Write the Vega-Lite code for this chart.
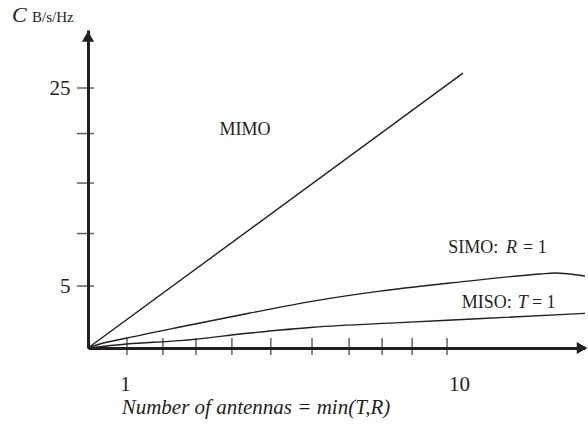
{
  "$schema": "https://vega.github.io/schema/vega-lite/v6.json",
  "width": 497,
  "height": 318,
  "autosize": {"type": "none"},
  "padding": {"left": 88, "top": 30, "right": 3, "bottom": 85},
  "background": "white",
  "config": {"view": {"stroke": null}, "font": "Liberation Serif"},
  "datasets": {
    "curves": [
      {"series": "MIMO", "n": 0, "c": -1.26},
      {"series": "MIMO", "n": 10.11, "c": 26.5},
      {"series": "SIMO", "n": 0, "c": -1.26},
      {"series": "SIMO", "n": 0.32, "c": -0.86},
      {"series": "SIMO", "n": 1.05, "c": -0.25},
      {"series": "SIMO", "n": 2.48, "c": 0.86},
      {"series": "SIMO", "n": 4.37, "c": 2.27},
      {"series": "SIMO", "n": 6.07, "c": 3.48},
      {"series": "SIMO", "n": 7.87, "c": 4.49},
      {"series": "SIMO", "n": 9.76, "c": 5.3},
      {"series": "SIMO", "n": 12.19, "c": 6.21},
      {"series": "SIMO", "n": 12.59, "c": 6.31},
      {"series": "SIMO", "n": 13.4, "c": 6.01},
      {"series": "MISO", "n": 0, "c": -1.26},
      {"series": "MISO", "n": 1.05, "c": -0.86},
      {"series": "MISO", "n": 2.48, "c": -0.52},
      {"series": "MISO", "n": 4.37, "c": 0.25},
      {"series": "MISO", "n": 6.07, "c": 0.83},
      {"series": "MISO", "n": 8.41, "c": 1.3},
      {"series": "MISO", "n": 10.5, "c": 1.69},
      {"series": "MISO", "n": 13.4, "c": 2.24}
    ],
    "xticks": [
      {"n": 1.05}, {"n": 2.02}, {"n": 2.91}, {"n": 3.88}, {"n": 4.93},
      {"n": 6.04}, {"n": 7.04}, {"n": 7.93}, {"n": 8.74}, {"n": 9.68}
    ],
    "yticks": [{"c": 5}, {"c": 10.3}, {"c": 15.4}, {"c": 20.4}, {"c": 25}],
    "labelsUpright": [
      {"text": "SIMO:", "n": 9.71, "c": 8.33},
      {"text": "= 1", "n": 11.73, "c": 8.33},
      {"text": "MISO:", "n": 10.08, "c": 2.78},
      {"text": "= 1", "n": 11.97, "c": 2.78}
    ],
    "labelsItalic": [
      {"text": "R", "n": 11.27, "c": 8.33},
      {"text": "T", "n": 11.59, "c": 2.78}
    ]
  },
  "layer": [
    {
      "data": {"name": "curves"},
      "mark": {"type": "line", "color": "#231f20", "strokeWidth": 1.4, "interpolate": "monotone"},
      "encoding": {
        "x": {
          "field": "n", "type": "quantitative",
          "scale": {"domain": [0, 13.4], "nice": false, "zero": false},
          "axis": {
            "values": [1, 10], "ticks": false, "grid": false,
            "domainWidth": 3, "domainColor": "#231f20",
            "labelFont": "Liberation Serif", "labelFontSize": 21, "labelColor": "#231f20",
            "labelBaseline": "alphabetic", "labelPadding": 42, "title": null
          }
        },
        "y": {
          "field": "c", "type": "quantitative",
          "scale": {"domain": [-1.26, 30.86], "nice": false, "zero": false},
          "axis": {
            "values": [5, 25], "ticks": false, "grid": false,
            "domainWidth": 3, "domainColor": "#231f20",
            "labelFont": "Liberation Serif", "labelFontSize": 21, "labelColor": "#231f20",
            "labelBaseline": "middle", "labelPadding": 18, "title": null
          }
        },
        "detail": {"field": "series", "type": "nominal"}
      }
    },
    {
      "data": {"name": "xticks"},
      "mark": {"type": "tick", "orient": "vertical", "color": "#231f20", "size": 17, "thickness": 1.5},
      "encoding": {
        "x": {"field": "n", "type": "quantitative"},
        "y": {"datum": -1.1, "type": "quantitative"}
      }
    },
    {
      "data": {"name": "yticks"},
      "mark": {"type": "tick", "orient": "horizontal", "color": "#231f20", "size": 17, "thickness": 1.5},
      "encoding": {
        "y": {"field": "c", "type": "quantitative"},
        "x": {"datum": -0.07, "type": "quantitative"}
      }
    },
    {
      "data": {"values": [{}]},
      "mark": {"type": "point", "shape": "triangle-up", "filled": true, "color": "#231f20", "size": 150, "opacity": 1},
      "encoding": {
        "x": {"datum": 0, "type": "quantitative"},
        "y": {"datum": 30.2, "type": "quantitative"}
      }
    },
    {
      "data": {"values": [{}]},
      "mark": {"type": "point", "shape": "triangle-right", "filled": true, "color": "#231f20", "size": 150, "opacity": 1},
      "encoding": {
        "x": {"datum": 13.32, "type": "quantitative"},
        "y": {"datum": -1.26, "type": "quantitative"}
      }
    },
    {
      "data": {"name": "labelsUpright"},
      "mark": {"type": "text", "align": "left", "baseline": "alphabetic", "font": "Liberation Serif", "fontSize": 18, "color": "#231f20"},
      "encoding": {
        "x": {"field": "n", "type": "quantitative"},
        "y": {"field": "c", "type": "quantitative"},
        "text": {"field": "text"}
      }
    },
    {
      "data": {"name": "labelsItalic"},
      "mark": {"type": "text", "align": "left", "baseline": "alphabetic", "font": "Liberation Serif", "fontStyle": "italic", "fontSize": 18, "color": "#231f20"},
      "encoding": {
        "x": {"field": "n", "type": "quantitative"},
        "y": {"field": "c", "type": "quantitative"},
        "text": {"field": "text"}
      }
    },
    {
      "data": {"values": [{"text": "MIMO", "n": 4.23, "c": 20.25}]},
      "mark": {"type": "text", "align": "center", "baseline": "alphabetic", "font": "Liberation Serif", "fontSize": 18, "color": "#231f20"},
      "encoding": {
        "x": {"field": "n", "type": "quantitative"},
        "y": {"field": "c", "type": "quantitative"},
        "text": {"field": "text"}
      }
    },
    {
      "data": {"values": [{"text": "C", "n": -2.05, "c": 31.7}]},
      "mark": {"type": "text", "align": "left", "baseline": "alphabetic", "font": "Liberation Serif", "fontStyle": "italic", "fontSize": 22, "color": "#231f20"},
      "encoding": {
        "x": {"field": "n", "type": "quantitative"},
        "y": {"field": "c", "type": "quantitative"},
        "text": {"field": "text"}
      }
    },
    {
      "data": {"values": [{"text": "B/s/Hz", "n": -1.51, "c": 31.7}]},
      "mark": {"type": "text", "align": "left", "baseline": "alphabetic", "font": "Liberation Serif", "fontSize": 15, "color": "#231f20"},
      "encoding": {
        "x": {"field": "n", "type": "quantitative"},
        "y": {"field": "c", "type": "quantitative"},
        "text": {"field": "text"}
      }
    },
    {
      "data": {"values": [{"text": "Number of antennas = min(T,R)", "n": 4.53, "c": -7.93}]},
      "mark": {"type": "text", "align": "center", "baseline": "alphabetic", "font": "Liberation Serif", "fontStyle": "italic", "fontSize": 21, "color": "#231f20"},
      "encoding": {
        "x": {"field": "n", "type": "quantitative"},
        "y": {"field": "c", "type": "quantitative"},
        "text": {"field": "text"}
      }
    }
  ]
}
